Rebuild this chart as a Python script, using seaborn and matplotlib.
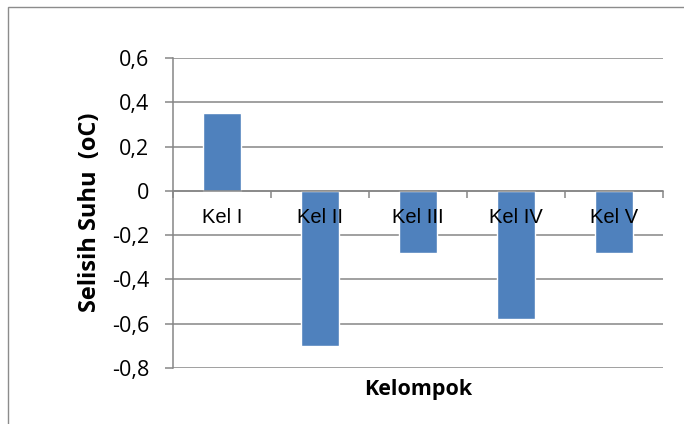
import matplotlib
matplotlib.use('Agg')
import matplotlib.pyplot as plt
import matplotlib.patches as mpatches
from matplotlib import font_manager
from matplotlib.ticker import FixedLocator, FuncFormatter
import seaborn as sns
import pandas as pd

# Data
kelompok = ['Kel I', 'Kel II', 'Kel III', 'Kel IV', 'Kel V']
selisih_suhu = [0.35, -0.70, -0.28, -0.58, -0.28]
y_ticks = [-0.8, -0.6, -0.4, -0.2, 0, 0.2, 0.4, 0.6]

df = pd.DataFrame({'Kelompok': kelompok, 'Selisih': selisih_suhu})

sns.set_style('white')
plt.rcParams['font.family'] = ['Open Sans', 'DejaVu Sans']
plt.rcParams['text.color'] = 'black'
plt.rcParams['axes.labelcolor'] = 'black'
plt.rcParams['xtick.labelcolor'] = 'black'
plt.rcParams['ytick.labelcolor'] = 'black'

# narrow font for the category labels if available
installed = {f.name for f in font_manager.fontManager.ttflist}
cat_font = 'Liberation Sans Narrow' if 'Liberation Sans Narrow' in installed \
    else 'Liberation Sans'
cat_size = 16 if cat_font == 'Liberation Sans Narrow' else 14.5

grid_col = '#868686'
bar_col = '#4F81BD'

fig = plt.figure(figsize=(6.84, 4.24), dpi=100)
ax = fig.add_axes([0.2529, 0.1321, 0.9693 - 0.2529, 0.8632 - 0.1321])

sns.barplot(data=df, x='Kelompok', y='Selisih', order=kelompok,
            color=bar_col, width=0.39, saturation=1, ax=ax, zorder=2)

ax.set_ylim(min(y_ticks), max(y_ticks))
ax.set_xlim(-0.5, len(kelompok) - 0.5)

# y axis: ticks, comma decimals, gridlines
ax.yaxis.set_major_locator(FixedLocator(y_ticks))
ax.yaxis.set_major_formatter(FuncFormatter(
    lambda v, p: ('%g' % round(v, 1)).replace('.', ',')))
ax.tick_params(axis='y', length=6, width=1.1, color=grid_col, pad=11,
               labelsize=15.5, left=True)
ax.yaxis.grid(True, color=grid_col, linewidth=1.1)
ax.set_axisbelow(True)

# x axis crosses at zero, tick marks between categories
for s in ['top', 'right']:
    ax.spines[s].set_visible(False)
ax.spines['left'].set_color(grid_col)
ax.spines['left'].set_linewidth(1.1)
ax.spines['bottom'].set_position(('data', 0))
ax.spines['bottom'].set_color(grid_col)
ax.spines['bottom'].set_linewidth(1.1)
ax.spines['bottom'].set_zorder(3)
ax.set_xticks(range(len(kelompok)))
ax.set_xticks([i - 0.5 for i in range(len(kelompok) + 1)], minor=True)
ax.tick_params(axis='x', which='major', length=0, pad=12,
               labelfontfamily=cat_font, labelsize=cat_size)
ax.tick_params(axis='x', which='minor', length=5, width=1.1,
               color=grid_col, direction='out', bottom=True)
# category labels sit on top of the bars
ax.xaxis.set_zorder(4)

ax.set_xlabel('Kelompok', fontsize=15.5, fontweight='bold')
ax.xaxis.set_label_coords(0.5, -0.035)
ax.set_ylabel('Selisih Suhu  (oC)', fontsize=17, fontweight='bold')
ax.yaxis.set_label_coords(-0.145, 0.503)

# outer chart border
fig.patches.append(mpatches.Rectangle((7.5 / 684, -0.1), 1.2, 1.1 - 7.5 / 424,
                                      transform=fig.transFigure,
                                      fill=False, edgecolor='#8c8c8c',
                                      linewidth=1.0))

fig.savefig('out.png', dpi=100)
